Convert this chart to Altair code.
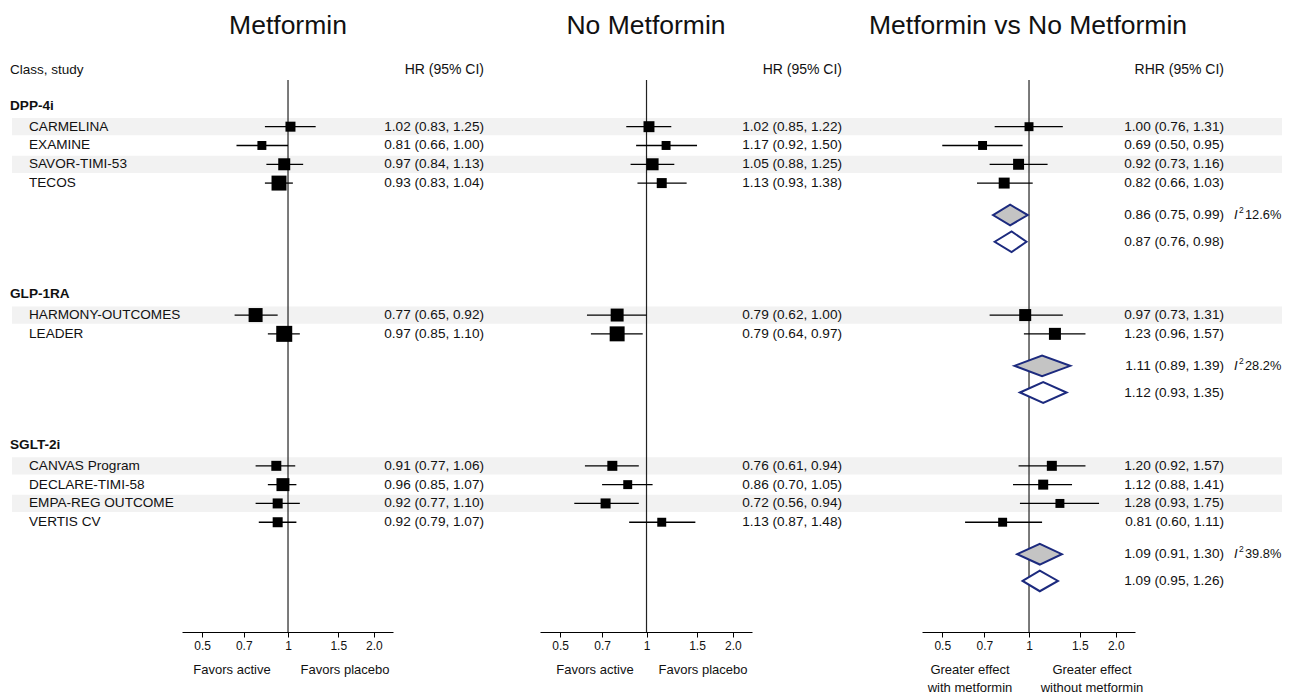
import altair as alt
import pandas as pd

FONT = "Liberation Sans"
TXT = "#111111"

# ---------------- data ----------------
groups = ["DPP-4i", "GLP-1RA", "SGLT-2i"]
studies = ["CARMELINA", "EXAMINE", "SAVOR-TIMI-53", "TECOS",
           "HARMONY-OUTCOMES", "LEADER",
           "CANVAS Program", "DECLARE-TIMI-58", "EMPA-REG OUTCOME", "VERTIS CV"]
study_group = ["DPP-4i"] * 4 + ["GLP-1RA"] * 2 + ["SGLT-2i"] * 4

met_hr = [1.02, 0.81, 0.97, 0.93, 0.77, 0.97, 0.91, 0.96, 0.92, 0.92]
met_lo = [0.83, 0.66, 0.84, 0.83, 0.65, 0.85, 0.77, 0.85, 0.77, 0.79]
met_hi = [1.25, 1.00, 1.13, 1.04, 0.92, 1.10, 1.06, 1.07, 1.10, 1.07]
met_w = [25, 20, 36, 56, 49, 64, 25, 42, 25, 25]

nomet_hr = [1.02, 1.17, 1.05, 1.13, 0.79, 0.79, 0.76, 0.86, 0.72, 1.13]
nomet_lo = [0.85, 0.92, 0.88, 0.93, 0.62, 0.64, 0.61, 0.70, 0.56, 0.87]
nomet_hi = [1.22, 1.50, 1.25, 1.38, 1.00, 0.97, 0.94, 1.05, 0.94, 1.48]
nomet_w = [30, 20, 36, 25, 42, 56, 25, 20, 25, 20]

rhr = [1.00, 0.69, 0.92, 0.82, 0.97, 1.23, 1.20, 1.12, 1.28, 0.81]
rhr_lo = [0.76, 0.50, 0.73, 0.66, 0.73, 0.96, 0.92, 0.88, 0.93, 0.60]
rhr_hi = [1.31, 0.95, 1.16, 1.03, 1.31, 1.57, 1.57, 1.41, 1.75, 1.11]
rhr_w = [20, 20, 30, 30, 36, 36, 25, 25, 20, 20]

pool_fixed = [0.86, 1.11, 1.09]
pool_fixed_lo = [0.75, 0.89, 0.91]
pool_fixed_hi = [0.99, 1.39, 1.30]
pool_rand = [0.87, 1.12, 1.09]
pool_rand_lo = [0.76, 0.93, 0.95]
pool_rand_hi = [0.98, 1.35, 1.26]
i2_values = ["12.6%", "28.2%", "39.8%"]

tick_values = [0.5, 0.7, 1, 1.5, 2.0]

# ---------------- row layout ----------------
pos_group = {}
pos_study = []
pos_fixed, pos_rand = [], []
cur = 0.0
for g in groups:
    pos_group[g] = cur
    cur += 1.1
    for s, sg in zip(studies, study_group):
        if sg == g:
            pos_study.append(cur)
            cur += 1
    cur += 0.7
    pos_fixed.append(cur)
    cur += 1.42
    pos_rand.append(cur)
    cur += 2.8

shade = []
k = 0
last = None
for sg in study_group:
    if sg != last:
        k = 0
        last = sg
    shade.append(k % 2 == 0)
    k += 1

H = 624
UNIT = 18.8
Y0 = 98
Y = alt.Scale(domain=[-Y0 / UNIT, (H - Y0) / UNIT], range=[0, H], nice=False, zero=False)
XDOM = [0.4253, 2.332]

AX = alt.Axis(values=tick_values, title=None, grid=False,
              labelExpr="datum.value == 1 ? '1' : format(datum.value, '.1f')",
              tickSize=5, tickColor="black", domainColor="black", domainWidth=1,
              labelFont=FONT, labelFontSize=12, labelColor=TXT, labelPadding=3)


def fmt(a, b, c):
    return f"{a:.2f} ({b:.2f}, {c:.2f})"


def panel(width, xr, hr, lo, hi, w, title, title_x, hdr, hdr_x, favors,
          names=False, pooled=False, band_x0=0):
    X = alt.Scale(type="log", domain=XDOM, range=xr, nice=False, zero=False)
    df = pd.DataFrame({
        "study": studies, "group": study_group, "pos": pos_study,
        "hr": hr, "lo": lo, "hi": hi, "w": w, "shade": shade,
        "label": [fmt(a, b, c) for a, b, c in zip(hr, lo, hi)],
    })
    df["y0"] = df["pos"] - 0.46
    df["y1"] = df["pos"] + 0.46
    base = alt.Chart(df)
    yenc = alt.Y("pos:Q", scale=Y, axis=None)

    layers = []
    layers.append(base.transform_filter("datum.shade").mark_rect(color="#f2f2f2").encode(
        x=alt.value(band_x0), x2=alt.value(width),
        y=alt.Y("y0:Q", scale=Y, axis=None), y2="y1:Q"))
    layers.append(alt.Chart(pd.DataFrame({"v": [1.0]})).mark_rule(color="#222", strokeWidth=1.2).encode(
        x=alt.X("v:Q", scale=X, axis=AX), y=alt.value(72), y2=alt.value(H)))
    layers.append(base.mark_rule(color="black", strokeWidth=1.3).encode(
        x=alt.X("lo:Q", scale=X, axis=AX), x2="hi:Q", y=yenc))
    layers.append(base.mark_square(color="black", opacity=1).encode(
        x=alt.X("hr:Q", scale=X, axis=AX), y=yenc,
        size=alt.Size("w:Q", scale=alt.Scale(domain=[0, 100], range=[0, 400]), legend=None)))
    layers.append(base.mark_text(align="right", font=FONT, fontSize=13.6, color=TXT).encode(
        x=alt.value(hdr_x), y=yenc, text="label:N"))
    layers.append(alt.Chart(pd.DataFrame({"t": [hdr]})).mark_text(
        align="right", font=FONT, fontSize=14, color=TXT).encode(
        x=alt.value(hdr_x), y=alt.value(62), text="t:N"))
    layers.append(alt.Chart(pd.DataFrame({"t": [title]})).mark_text(
        align="center", font=FONT, fontSize=26.5, color=TXT).encode(
        x=alt.value(title_x), y=alt.value(18), text="t:N"))
    for txt, fx in favors:
        layers.append(alt.Chart(pd.DataFrame({"t": [txt]})).mark_text(
            align="center", baseline="top", font=FONT, fontSize=13, color=TXT,
            lineBreak="\n", lineHeight=18).encode(
            x=alt.value(fx), y=alt.value(656), text="t:N"))

    if names:
        layers.append(base.mark_text(align="left", font=FONT, fontSize=13.6, color=TXT).encode(
            x=alt.value(21), y=yenc, text="study:N"))
        gdf = pd.DataFrame({"g": groups, "pos": [pos_group[g] for g in groups]})
        layers.append(alt.Chart(gdf).mark_text(align="left", font=FONT, fontSize=13.6,
                                              fontWeight="bold", color=TXT).encode(
            x=alt.value(2), y=yenc, text="g:N"))
        layers.append(alt.Chart(pd.DataFrame({"t": ["Class, study"]})).mark_text(
            align="left", font=FONT, fontSize=13.5, color=TXT).encode(
            x=alt.value(2), y=alt.value(62), text="t:N"))

    if pooled:
        rows = []
        for i in range(len(groups)):
            for kind, est, l, h, p in (("fixed", pool_fixed[i], pool_fixed_lo[i], pool_fixed_hi[i], pos_fixed[i]),
                                       ("random", pool_rand[i], pool_rand_lo[i], pool_rand_hi[i], pos_rand[i])):
                d = 0.55
                rows.append({"id": f"{i}-{kind}", "kind": kind, "x": l, "ya": p, "yb": p})
                rows.append({"id": f"{i}-{kind}", "kind": kind, "x": est, "ya": p - d, "yb": p + d})
                rows.append({"id": f"{i}-{kind}", "kind": kind, "x": h, "ya": p, "yb": p})
        ddf = pd.DataFrame(rows)
        layers.append(alt.Chart(ddf).mark_area(stroke="#1c2a7e", strokeWidth=2, opacity=1,
                                               interpolate="linear").encode(
            x=alt.X("x:Q", scale=X, axis=AX),
            y=alt.Y("ya:Q", scale=Y, axis=None), y2="yb:Q",
            detail="id:N",
            color=alt.Color("kind:N", scale=alt.Scale(domain=["fixed", "random"],
                                                      range=["#c4c4c4", "#ffffff"]), legend=None)))
        pdf = pd.DataFrame({
            "pos": pos_fixed + pos_rand,
            "label": [fmt(a, b, c) for a, b, c in zip(pool_fixed, pool_fixed_lo, pool_fixed_hi)]
                     + [fmt(a, b, c) for a, b, c in zip(pool_rand, pool_rand_lo, pool_rand_hi)],
        })
        layers.append(alt.Chart(pdf).mark_text(align="right", font=FONT, fontSize=13.6, color=TXT).encode(
            x=alt.value(hdr_x), y=yenc, text="label:N"))
        idf = pd.DataFrame({"pos": pos_fixed, "v": i2_values})
        layers.append(alt.Chart(idf).mark_text(align="left", font=FONT, fontSize=13, fontStyle="italic",
                                              color=TXT).encode(
            x=alt.value(364), y=yenc, text=alt.value("I")))
        layers.append(alt.Chart(idf).mark_text(align="left", font=FONT, fontSize=8.5, color=TXT, dy=-5).encode(
            x=alt.value(369), y=yenc, text=alt.value("2")))
        layers.append(alt.Chart(idf).mark_text(align="left", font=FONT, fontSize=12.8, color=TXT).encode(
            x=alt.value(375), y=yenc, text="v:N"))

    return alt.layer(*layers).properties(width=width, height=H)


p1 = panel(492, [174, 385], met_hr, met_lo, met_hi, met_w, "Metformin", 280,
           "HR (95% CI)", 476, [("Favors active", 224), ("Favors placebo", 337)],
           names=True, band_x0=4)
p2 = panel(370, [40, 252], nomet_hr, nomet_lo, nomet_hi, nomet_w, "No Metformin", 146,
           "HR (95% CI)", 342, [("Favors active", 95), ("Favors placebo", 203)])
p3 = panel(412, [52, 265], rhr, rhr_lo, rhr_hi, rhr_w, "Metformin vs No Metformin", 158,
           "RHR (95% CI)", 354,
           [("Greater effect\nwith metformin", 100), ("Greater effect\nwithout metformin", 222)],
           pooled=True)

chart = alt.hconcat(p1, p2, p3, spacing=0, bounds="flush").properties(
    padding=0, background="white"
).configure_view(stroke=None)

chart.save("out.html", embed_options={"renderer": "svg", "actions": False})
